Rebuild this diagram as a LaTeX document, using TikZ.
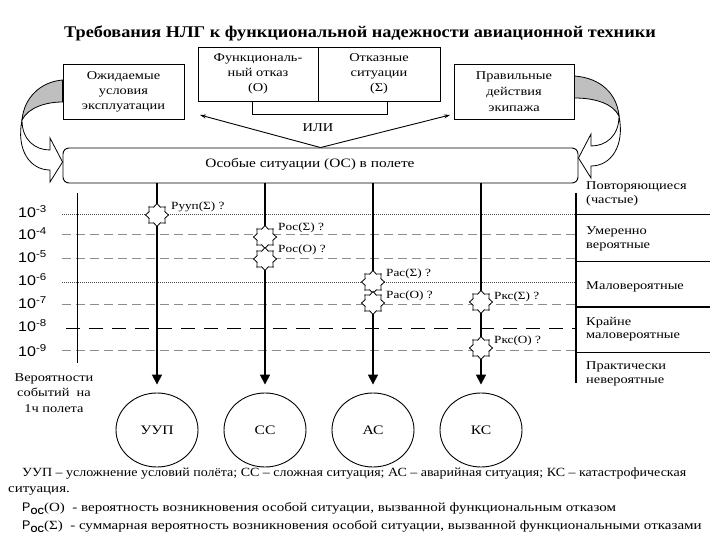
\documentclass[tikz,border=0pt]{standalone}
\usepackage{fontspec}
\setmainfont{Liberation Serif}
\newfontfamily\wf[FakeStretch=1.2]{Liberation Serif}
\newfontfamily\wfc[FakeStretch=1.12]{Liberation Serif}
\newfontfamily\wfb[FakeStretch=1.12]{Liberation Serif Bold}
\newfontfamily\sfw[FakeStretch=1.15]{Liberation Sans}
\newfontfamily\arialf{Liberation Sans}
\usetikzlibrary{shapes.geometric,arrows.meta,calc}
\begin{document}
\begin{tikzpicture}[x=1pt,y=-1pt,
  box/.style={draw,line width=0.9pt,align=center,inner sep=0pt,font=\wf\fontsize{12}{15}\selectfont},
  txt/.style={inner sep=0pt,font=\wf\fontsize{12}{15}\selectfont},
  lbl/.style={inner sep=0pt,anchor=west,font=\wf\fontsize{11}{13}\selectfont},
  lev/.style={inner sep=0pt,anchor=west,font=\sfw\fontsize{14}{14}\selectfont},
  cat/.style={inner sep=0pt,anchor=west,align=left,font=\wf\fontsize{12}{13.5}\selectfont},
  leg/.style={inner sep=0pt,anchor=west,font=\wf\fontsize{12.5}{15}\selectfont},
  outc/.style={draw,ellipse,line width=0.9pt,minimum width=82pt,minimum height=74pt,inner sep=0pt,font=\wf\fontsize{13}{15}\selectfont},
  starn/.style={draw,star,star points=8,star point ratio=1.35,minimum size=23pt,inner sep=0pt,fill=white,line width=0.8pt},
  varrow/.style={line width=1.7pt,-{Triangle[length=10pt,width=10pt]},shorten >=8pt},
  dotl/.style={line width=0.7pt,dash pattern=on 1pt off 1pt,black!70},
  grl/.style={line width=0.7pt,dash pattern=on 9pt off 5pt,black!45},
  bigd/.style={line width=1pt,dash pattern=on 14pt off 9pt},
  sep/.style={line width=1pt},
  orl/.style={line width=0.9pt,-{Stealth[length=6pt,width=4pt]}}
]
\useasboundingbox (0,0) rectangle (720,540);
\fill[white] (0,0) rectangle (720,540);

% title
\node[inner sep=0pt,font=\wfb\fontsize{16.3}{18}\selectfont] (title) at (360,33) {Требования НЛГ к функциональной надежности авиационной техники};

% top boxes
\node[box,minimum width=120pt,minimum height=54pt] (f) at (258,74) {Функциональ-\\ный отказ\\(О)};
\node[box,minimum width=122pt,minimum height=54pt] (s) at (379,74) {Отказные\\ситуации\\(Σ)};
\node[box,minimum width=121pt,minimum height=55pt] (L) at (123.5,91.5) {Ожидаемые\\условия\\эксплуатации};
\node[box,minimum width=120pt,minimum height=55pt,font=\wf\fontsize{12}{16}\selectfont] (R) at (514,91.5) {Правильные\\действия\\экипажа};
\node[box,rounded corners=6pt,minimum width=515pt,minimum height=35pt] (os) at (320.5,165.5) {};
\node[txt,font=\wf\fontsize{12.8}{15}\selectfont] (ost) at (310,164) {Особые ситуации (ОС) в полете};

% stems and OR
\draw[line width=0.9pt] ([xshift=-6pt]f.south) -- ++(0,13) -| ([xshift=8pt]s.south);
\coordinate (vl) at (200,115);
\coordinate (vr) at (450,115);
\draw[orl] (os.north) -- (vl);
\draw[orl] (os.north) -- (vr);
\node[txt] (ili) at (318,128) {ИЛИ};

% curved arrows
\filldraw[fill=black!25,line width=0.8pt] (L.west |- 0,80) .. controls (40,82) and (24,98) .. (22,120) .. controls (28,108) and (45,102) .. (L.west |- 0,102) -- cycle;
\filldraw[fill=white,line width=0.8pt] (22,120) .. controls (22,140) and (35,150) .. (50,150) -- (50,138) -- (os.west |- 0,162) -- (50,182) -- (50,170) .. controls (30,170) and (16,150) .. (22,120) -- cycle;
\filldraw[fill=black!25,line width=0.8pt] (R.east |- 0,76) .. controls (601,78) and (617,94) .. (619,116) .. controls (613,104) and (596,98) .. (R.east |- 0,98) -- cycle;
\filldraw[fill=white,line width=0.8pt] (619,116) .. controls (619,136) and (606,146) .. (591,146) -- (591,134) -- (os.east |- 0,158) -- (591,178) -- (591,166) .. controls (611,166) and (625,146) .. (619,116) -- cycle;

% level lines
\draw[dotl] (62,214) -- (576,214);
\draw[grl] (62,234) -- (576,234);
\draw[grl] (62,258) -- (576,258);
\draw[dotl] (62,282) -- (576,282);
\draw[grl] (62,304) -- (576,304);
\draw[bigd] (66,328) -- (576,328);
\draw[grl] (62,350) -- (576,350);

% axis
\draw[line width=0.9pt] (77,193) -- (77,363);
\node[lev] (l3) at (18,212) {10\raisebox{5pt}{\fontsize{10}{10}\selectfont -3}};
\node[lev] (l4) at (18,234) {10\raisebox{5pt}{\fontsize{10}{10}\selectfont -4}};
\node[lev] (l5) at (18,257) {10\raisebox{5pt}{\fontsize{10}{10}\selectfont -5}};
\node[lev] (l6) at (18,280) {10\raisebox{5pt}{\fontsize{10}{10}\selectfont -6}};
\node[lev] (l7) at (18,303) {10\raisebox{5pt}{\fontsize{10}{10}\selectfont -7}};
\node[lev] (l8) at (18,326) {10\raisebox{5pt}{\fontsize{10}{10}\selectfont -8}};
\node[lev] (l9) at (18,351) {10\raisebox{5pt}{\fontsize{10}{10}\selectfont -9}};
\node[inner sep=0pt,align=center,font=\wf\fontsize{12}{15.5}\selectfont] (prob) at (54,393) {Вероятности\\событий\ \ на\\1ч полета};

% right categories
\draw[line width=1.2pt] (576,193) -- (576,383);
\draw[sep] (576,215) -- (710,215);
\draw[sep] (576,261) -- (710,261);
\draw[line width=1.6pt] (576,307) -- (710,307);
\draw[sep] (576,352) -- (710,352);
\node[cat] (c1) at (586,194) {Повторяющиеся\\(частые)};
\node[cat] (c2) at (586,239) {Умеренно\\вероятные};
\node[cat] (c3) at (586,287) {Маловероятные};
\node[cat] (c4) at (586,329) {Крайне\\маловероятные};
\node[cat] (c5) at (586,374) {Практически\\невероятные};

% outcome circles
\node[outc] (uup) at (157,430) {УУП};
\node[outc] (cc) at (265,430) {СС};
\node[outc] (ac) at (373,430) {АС};
\node[outc] (kc) at (481,430) {КС};
\draw[varrow] (os.south -| uup) -- (uup);
\draw[varrow] (os.south -| cc) -- (cc);
\draw[varrow] (os.south -| ac) -- (ac);
\draw[varrow] (os.south -| kc) -- (kc);

% stars
\node[starn] (s1) at (157,215) {};
\node[starn] (s2) at (265,237) {};
\node[starn] (s3) at (265,259) {};
\node[starn] (s4) at (373,282) {};
\node[starn] (s5) at (373,303) {};
\node[starn] (s6) at (481,302) {};
\node[starn] (s7) at (481,348) {};
\node[lbl] (t1) at (171,207) {Pууп(Σ) ?};
\node[lbl] (t2) at (278,228) {Pос(Σ) ?};
\node[lbl] (t3) at (278,250) {Pос(О) ?};
\node[lbl] (t4) at (386,274) {Pас(Σ) ?};
\node[lbl] (t5) at (386,296) {Pас(О) ?};
\node[lbl] (t6) at (494,297) {Pкс(Σ) ?};
\node[lbl] (t7) at (494,341) {Pкс(О) ?};

% legend
\node[leg,font=\wfc\fontsize{12.5}{15}\selectfont] (g1) at (22,474) {УУП – усложнение условий полёта; СС – сложная ситуация; АС – аварийная ситуация; КС – катастрофическая};
\node[leg] (g2) at (8,491) {ситуация.};
\node[leg] (g3) at (22,509) {{\arialf P\raisebox{-3pt}{\fontsize{9}{9}\selectfont\bfseries ОС}}(О)\ \ - вероятность возникновения особой ситуации, вызванной функциональным отказом};
\node[leg] (g4) at (22,527) {{\arialf P\raisebox{-3pt}{\fontsize{9}{9}\selectfont\bfseries ОС}}(Σ)\ \ - суммарная вероятность возникновения особой ситуации, вызванной функциональными отказами};
\end{tikzpicture}
\end{document}
